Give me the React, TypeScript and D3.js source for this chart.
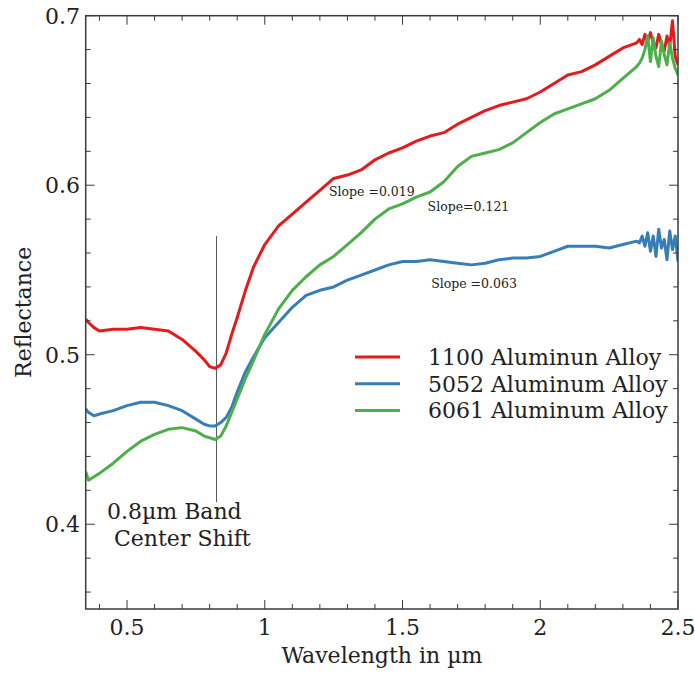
import * as React from "react";
import * as d3 from "d3";

// wavelength grid (µm) shared by the three spectra
const wavelengths = [
  0.35, 0.36, 0.38, 0.4, 0.45, 0.5, 0.55, 0.6, 0.65, 0.7, 0.75, 0.78, 0.8, 0.82, 0.84, 0.86, 0.88, 0.9, 0.93, 0.96,
  1.0, 1.05, 1.1, 1.15, 1.2, 1.25, 1.3, 1.35, 1.4, 1.45, 1.5, 1.55, 1.6, 1.65, 1.7, 1.75, 1.8, 1.85, 1.9, 1.95,
  2.0, 2.05, 2.1, 2.15, 2.2, 2.25, 2.3, 2.35,
  2.36, 2.37, 2.38, 2.39, 2.4, 2.41, 2.42, 2.43, 2.44, 2.45, 2.46, 2.47, 2.48, 2.49, 2.5,
];

const alloy1100 = [
  0.521, 0.519, 0.516, 0.514, 0.515, 0.515, 0.516, 0.515, 0.514, 0.509, 0.502, 0.497, 0.493, 0.492, 0.494, 0.501, 0.512, 0.522, 0.538, 0.552,
  0.565, 0.576, 0.583, 0.59, 0.597, 0.604, 0.606, 0.609, 0.615, 0.619, 0.622, 0.626, 0.629, 0.631, 0.636, 0.64, 0.644, 0.647, 0.649, 0.651,
  0.655, 0.66, 0.665, 0.667, 0.671, 0.676, 0.681, 0.684,
  0.686, 0.683, 0.689, 0.685, 0.69, 0.684, 0.681, 0.689, 0.683, 0.679, 0.688, 0.682, 0.697, 0.676, 0.671,
];

const alloy5052 = [
  0.468, 0.466, 0.464, 0.465, 0.467, 0.47, 0.472, 0.472, 0.47, 0.467, 0.462, 0.459, 0.458, 0.458, 0.46, 0.463, 0.469, 0.478, 0.49, 0.499,
  0.51, 0.519, 0.528, 0.535, 0.538, 0.54, 0.544, 0.547, 0.55, 0.553, 0.555, 0.555, 0.556, 0.555, 0.554, 0.553, 0.554, 0.556, 0.557, 0.557,
  0.558, 0.561, 0.564, 0.564, 0.564, 0.563, 0.565, 0.567,
  0.566, 0.57, 0.564, 0.572, 0.561, 0.57, 0.558, 0.574, 0.563, 0.568, 0.556, 0.573, 0.562, 0.57, 0.555,
];

const alloy6061 = [
  0.431, 0.426, 0.428, 0.43, 0.436, 0.443, 0.449, 0.453, 0.456, 0.457, 0.455, 0.452, 0.451, 0.45, 0.452, 0.458, 0.466, 0.474, 0.486, 0.497,
  0.512, 0.527, 0.538, 0.546, 0.553, 0.558, 0.565, 0.572, 0.58, 0.586, 0.589, 0.593, 0.596, 0.602, 0.611, 0.617, 0.619, 0.621, 0.625, 0.631,
  0.637, 0.642, 0.645, 0.648, 0.651, 0.656, 0.663, 0.67,
  0.672, 0.675, 0.68, 0.688, 0.673, 0.687, 0.676, 0.67, 0.685, 0.677, 0.671, 0.684, 0.675, 0.669, 0.665,
];

const seriesNames = ["1100 Aluminun Alloy", "5052 Aluminum Alloy", "6061 Aluminum Alloy"];
const seriesColors = ["#e41a1c", "#377eb8", "#4daf4a"];

const xTicks = [0.5, 1, 1.5, 2, 2.5];
const xTickLabels = ["0.5", "1", "1.5", "2", "2.5"];
const yTicks = [0.4, 0.5, 0.6, 0.7];
const yTickLabels = ["0.4", "0.5", "0.6", "0.7"];

const slopeLabels = [
  { text: "Slope =0.019", w: 1.233, v: 0.5938 },
  { text: "Slope=0.121", w: 1.591, v: 0.5845 },
  { text: "Slope =0.063", w: 1.604, v: 0.5395 },
];

const bandCenter = 0.825;

const W = 695;
const H = 673;
const m = { left: 85.7, right: 678, top: 15.7, bottom: 609 };
const font = "'DejaVu Serif', serif";
const axisColor = "#3a3a3a";

export default function App() {
  const x = d3.scaleLinear().domain([0.35, 2.5]).range([m.left, m.right]);
  const y = d3.scaleLinear().domain([0.35, 0.7]).range([m.bottom, m.top]);

  const line = d3
    .line<number>()
    .x((d, i) => x(wavelengths[i]))
    .y((d) => y(d));

  const series = [alloy1100, alloy5052, alloy6061];

  const xMinor = d3.range(0.4, 2.5001, 0.1).filter((t) => !xTicks.some((k) => Math.abs(k - t) < 1e-6));
  const yMinor = d3.range(0.36, 0.7001, 0.02).filter((t) => !yTicks.some((k) => Math.abs(k - t) < 1e-6));

  return (
    <svg width={W} height={H} style={{ position: "absolute", left: 0, top: 0, background: "#fff" }} fontFamily={font}>
      <defs>
        <clipPath id="plot">
          <rect x={m.left} y={m.top} width={m.right - m.left} height={m.bottom - m.top} />
        </clipPath>
      </defs>

      {/* band centre marker */}
      <line x1={x(bandCenter)} x2={x(bandCenter)} y1={y(0.413)} y2={y(0.57)} stroke="#555" strokeWidth={1} />

      <g clipPath="url(#plot)">
        {series.map((s, i) => (
          <path key={i} d={line(s) || ""} fill="none" stroke={seriesColors[i]} strokeWidth={3} strokeLinejoin="round" />
        ))}
      </g>

      {/* ticks, inward on all four sides */}
      {xTicks.map((t) => (
        <g key={"xt" + t}>
          <line x1={x(t)} x2={x(t)} y1={m.bottom} y2={m.bottom - 9} stroke={axisColor} />
          <line x1={x(t)} x2={x(t)} y1={m.top} y2={m.top + 9} stroke={axisColor} />
        </g>
      ))}
      {xMinor.map((t) => (
        <g key={"xm" + t}>
          <line x1={x(t)} x2={x(t)} y1={m.bottom} y2={m.bottom - 5} stroke={axisColor} />
          <line x1={x(t)} x2={x(t)} y1={m.top} y2={m.top + 5} stroke={axisColor} />
        </g>
      ))}
      {yTicks.map((t) => (
        <g key={"yt" + t}>
          <line x1={m.left} x2={m.left + 9} y1={y(t)} y2={y(t)} stroke={axisColor} />
          <line x1={m.right} x2={m.right - 9} y1={y(t)} y2={y(t)} stroke={axisColor} />
        </g>
      ))}
      {yMinor.map((t) => (
        <g key={"ym" + t}>
          <line x1={m.left} x2={m.left + 5} y1={y(t)} y2={y(t)} stroke={axisColor} />
          <line x1={m.right} x2={m.right - 5} y1={y(t)} y2={y(t)} stroke={axisColor} />
        </g>
      ))}

      <rect x={m.left} y={m.top} width={m.right - m.left} height={m.bottom - m.top} fill="none" stroke={axisColor} strokeWidth={1.5} />

      {xTicks.map((t, i) => (
        <text key={"xl" + t} x={x(t)} y={635} textAnchor="middle" fontSize={22} fill="#222">
          {xTickLabels[i]}
        </text>
      ))}
      {yTicks.map((t, i) => (
        <text key={"yl" + t} x={80} y={y(t)} dy="0.36em" textAnchor="end" fontSize={22} fill="#222">
          {yTickLabels[i]}
        </text>
      ))}

      <text x={(m.left + m.right) / 2} y={663} textAnchor="middle" fontSize={22} fill="#222">
        Wavelength in µm
      </text>
      <text transform={`translate(31,${(m.top + m.bottom) / 2}) rotate(-90)`} textAnchor="middle" fontSize={22} fill="#222">
        Reflectance
      </text>

      <text x={107} y={519} fontSize={22} fill="#222">0.8µm Band</text>
      <text x={114} y={546} fontSize={22} fill="#222">Center Shift</text>

      {slopeLabels.map((s) => (
        <text key={s.text} x={x(s.w)} y={y(s.v)} fontSize={12.5} fill="#222">
          {s.text}
        </text>
      ))}

      {seriesNames.map((n, i) => (
        <g key={n} transform={`translate(0,${357 + i * 26.7})`}>
          <line x1={355} x2={400} y1={0} y2={0} stroke={seriesColors[i]} strokeWidth={3} />
          <text x={428} y={0} dy="0.36em" fontSize={22} fill="#222">
            {n}
          </text>
        </g>
      ))}
    </svg>
  );
}
